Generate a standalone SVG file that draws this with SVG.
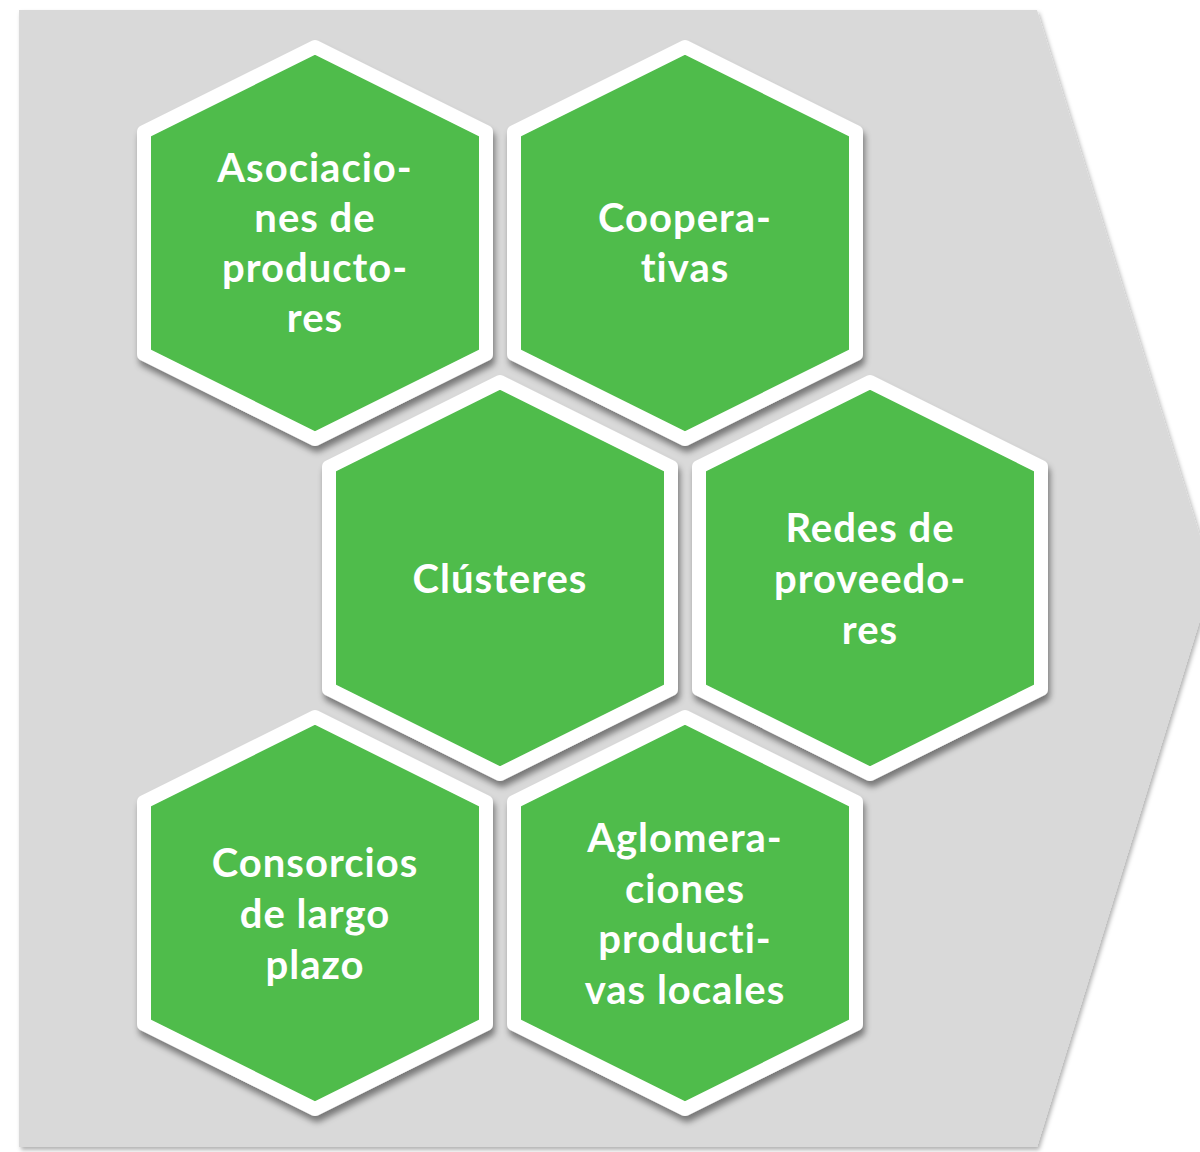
<svg xmlns="http://www.w3.org/2000/svg" width="1200" height="1152" viewBox="0 0 1200 1152">
<defs>
<filter id="bgsh" x="-5%" y="-5%" width="110%" height="110%">
<feDropShadow dx="2" dy="3" stdDeviation="2" flood-color="#000" flood-opacity="0.3"/>
</filter>
<filter id="hexsh" x="-10%" y="-10%" width="125%" height="125%">
<feDropShadow dx="2" dy="6" stdDeviation="3" flood-color="#000" flood-opacity="0.45"/>
</filter>
<polygon id="hex" points="0,-196 171,-111 171,111 0,196 -171,111 -171,-111"/>
</defs>
<style>
.hex{fill:#50BC4B;stroke:#FFFFFF;stroke-width:14;stroke-linejoin:round}
.lbl{font-family:Lato,"Liberation Sans",sans-serif;font-weight:bold;font-size:40px;fill:#FFFFFF;text-anchor:middle;letter-spacing:1px}
</style>
<polygon id="background" points="19,10 1037,10 1213,578 1037,1147 19,1147" fill="#D9D9D9" filter="url(#bgsh)"/>
<g id="connectors"/>
<g id="n1" transform="translate(315,243)">
<use href="#hex" class="hex" filter="url(#hexsh)"/>
<text class="lbl"><tspan x="0" y="-61">Asociacio-</tspan><tspan x="0" y="-11">nes de</tspan><tspan x="0" y="39">producto-</tspan><tspan x="0" y="89">res</tspan></text>
</g>
<g id="n2" transform="translate(685,243)">
<use href="#hex" class="hex" filter="url(#hexsh)"/>
<text class="lbl"><tspan x="0" y="-11">Coopera-</tspan><tspan x="0" y="39">tivas</tspan></text>
</g>
<g id="n3" transform="translate(500,578)">
<use href="#hex" class="hex" filter="url(#hexsh)"/>
<text class="lbl" letter-spacing="1.6"><tspan x="0" y="15">Clústeres</tspan></text>
</g>
<g id="n4" transform="translate(870,578)">
<use href="#hex" class="hex" filter="url(#hexsh)"/>
<text class="lbl"><tspan x="0" y="-36">Redes de</tspan><tspan x="0" y="15">proveedo-</tspan><tspan x="0" y="66">res</tspan></text>
</g>
<g id="n5" transform="translate(315,913)">
<use href="#hex" class="hex" filter="url(#hexsh)"/>
<text class="lbl"><tspan x="0" y="-36">Consorcios</tspan><tspan x="0" y="15">de largo</tspan><tspan x="0" y="66">plazo</tspan></text>
</g>
<g id="n6" transform="translate(685,913)">
<use href="#hex" class="hex" filter="url(#hexsh)"/>
<text class="lbl"><tspan x="0" y="-61">Aglomera-</tspan><tspan x="0" y="-10">ciones</tspan><tspan x="0" y="40">producti-</tspan><tspan x="0" y="91">vas locales</tspan></text>
</g>
</svg>
